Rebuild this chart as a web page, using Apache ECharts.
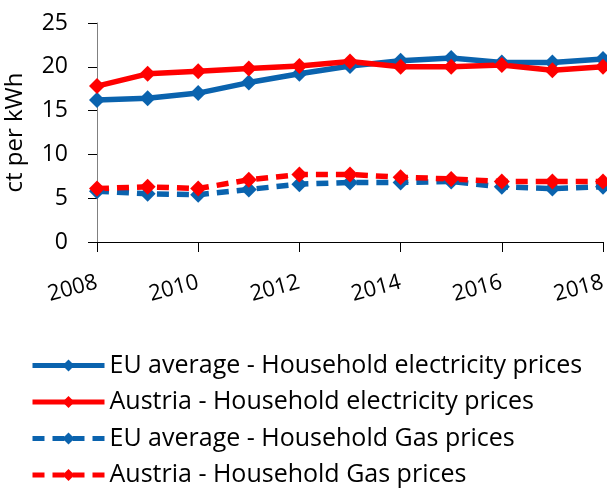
<!DOCTYPE html>
<html>
<head>
<meta charset="utf-8">
<script src="https://cdn.jsdelivr.net/npm/echarts@6/dist/echarts.min.js"></script>
<style>
  html, body { margin: 0; padding: 0; background: #fff; }
  #container { width: 607px; height: 488px; }
</style>
</head>
<body>
<div id="container"></div>
<script>
  var years = ['2008','2009','2010','2011','2012','2013','2014','2015','2016','2017','2018'];
  var euElec = [16.2, 16.4, 17.0, 18.2, 19.2, 20.1, 20.7, 21.0, 20.5, 20.5, 20.9];
  var atElec = [17.8, 19.2, 19.5, 19.8, 20.1, 20.6, 20.0, 20.0, 20.2, 19.6, 20.0];
  var euGas = [5.8, 5.5, 5.4, 6.0, 6.6, 6.8, 6.8, 6.9, 6.3, 6.1, 6.3];
  var atGas = [6.1, 6.3, 6.1, 7.1, 7.7, 7.7, 7.4, 7.2, 6.9, 6.9, 6.9];
  var yTicks = [0, 5, 10, 15, 20, 25];

  var blue = '#0a63ae';
  var red = '#ff0000';
  var font = 'Open Sans';

  function mkSeries(name, data, color, dashed) {
      return {
          name: name,
          type: 'line',
          data: data,
          symbol: 'diamond',
          symbolSize: 16,
          color: color,
          lineStyle: { width: 5.5, color: color, type: dashed ? [12, 8] : 'solid' },
          itemStyle: { color: color }
      };
  }

  var dom = document.getElementById("container");
  var myChart = echarts.init(dom);
  var option = {
      animation: false,
      grid: { left: 97, right: 4, top: 23, bottom: 246, outerBoundsMode: 'none', containLabel: false },
      legend: {
          orient: 'vertical',
          left: 30,
          top: 353,
          padding: 0,
          itemWidth: 72,
          itemHeight: 15,
          itemGap: 11.5,
          lineStyle: { width: 5 },
          textStyle: { fontFamily: font, fontSize: 25, color: '#000', lineHeight: 25 },
          data: [
              'EU average - Household electricity prices',
              'Austria - Household electricity prices',
              'EU average - Household Gas prices',
              'Austria - Household Gas prices'
          ]
      },
      xAxis: {
          type: 'category',
          data: years,
          boundaryGap: false,
          axisLine: { lineStyle: { color: '#000', width: 1 } },
          axisTick: { interval: 1, length: 10, lineStyle: { color: '#000' } },
          axisLabel: { interval: 1, rotate: 15, margin: 40, fontFamily: font, fontSize: 22, color: '#000' },
          splitLine: { show: false }
      },
      yAxis: {
          type: 'value',
          min: yTicks[0],
          max: yTicks[yTicks.length - 1],
          interval: 5,
          name: 'ct per kWh',
          nameLocation: 'middle',
          nameGap: 70,
          nameTextStyle: { fontFamily: font, fontSize: 24, color: '#000' },
          axisLine: { show: true, lineStyle: { color: '#808080', width: 1 } },
          axisTick: { show: true, length: 9, lineStyle: { color: '#000' } },
          axisLabel: { margin: 29, fontFamily: font, fontSize: 23, color: '#000' },
          splitLine: { show: false }
      },
      series: [
          mkSeries('EU average - Household electricity prices', euElec, blue, false),
          mkSeries('Austria - Household electricity prices', atElec, red, false),
          mkSeries('EU average - Household Gas prices', euGas, blue, true),
          mkSeries('Austria - Household Gas prices', atGas, red, true)
      ]
  };
  myChart.setOption(option, true);
</script>
</body>
</html>
